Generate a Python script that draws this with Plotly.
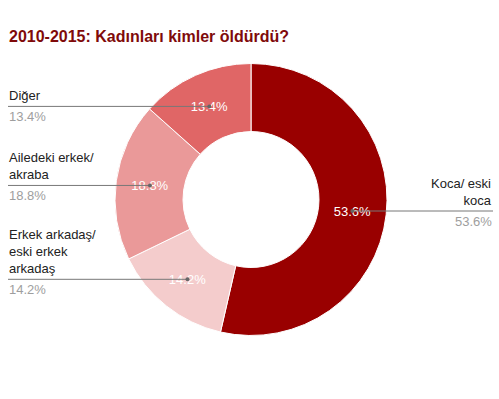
import math
import plotly.graph_objects as go

# ---- data ----
labels = ["Koca/ eski koca", "Erkek arkadaş/ eski erkek arkadaş", "Ailedeki erkek/ akraba", "Diğer"]
label_lines = [["Koca/ eski", "koca"], ["Erkek arkadaş/", "eski erkek", "arkadaş"], ["Ailedeki erkek/", "akraba"], ["Diğer"]]
values = [53.6, 14.2, 18.8, 13.4]
colors = ["#990000", "#f4cccc", "#ea9999", "#e06666"]
title_text = "2010-2015: Kadınları kimler öldürdü?"

# ---- geometry ----
W, H = 499, 399
cx, cy, R = 251, 199.5, 136
HOLE = 0.5
r_mid = R * (1 + HOLE) / 2
FONT = "Arial, Liberation Sans, sans-serif"

def px(x):
    return x / W

def py(y):
    return 1 - y / H

fig = go.Figure(go.Pie(
    values=values,
    labels=labels,
    hole=HOLE,
    sort=False,
    direction="clockwise",
    rotation=0,
    marker=dict(colors=colors, line=dict(color="white", width=1)),
    texttemplate="%{percent:.1%}",
    textposition="inside",
    insidetextorientation="horizontal",
    textfont=dict(color="white", size=13, family=FONT),
    domain=dict(x=[px(cx - R), px(cx + R)], y=[py(cy + R), py(cy - R)]),
    showlegend=False,
    hoverinfo="label+percent",
))

shapes = []
annotations = []
total = sum(values)
cum = 0.0
for i, v in enumerate(values):
    mid = (cum + v / 2) / total * 2 * math.pi
    cum += v
    dx = cx + r_mid * math.sin(mid)
    dy = cy - r_mid * math.cos(mid)
    right = math.sin(mid) > 0
    x0, x1 = (dx, 493) if right else (8, dx)
    shapes.append(dict(type="line", xref="paper", yref="paper",
                       x0=px(x0), x1=px(x1), y0=py(dy), y1=py(dy),
                       line=dict(color="#777777", width=1)))
    shapes.append(dict(type="circle", xref="paper", yref="paper",
                       x0=px(dx - 2), x1=px(dx + 2), y0=py(dy + 2), y1=py(dy - 2),
                       fillcolor="#666666", line=dict(width=0)))
    ax = 493 if right else 8
    anchor = "right" if right else "left"
    annotations.append(dict(
        x=px(ax), y=py(dy - 2), xref="paper", yref="paper",
        text="<br>".join(label_lines[i]), showarrow=False,
        xanchor=anchor, yanchor="bottom", align=anchor, borderpad=0,
        font=dict(family=FONT, size=13, color="#222222")))
    annotations.append(dict(
        x=px(ax), y=py(dy + 2), xref="paper", yref="paper",
        text=f"{v:.1f}%", showarrow=False,
        xanchor=anchor, yanchor="top", align=anchor, borderpad=0,
        font=dict(family=FONT, size=13, color="#9e9e9e")))

annotations.append(dict(
    x=px(7), y=py(36), xref="paper", yref="paper", text=title_text,
    showarrow=False, xanchor="left", yanchor="middle",
    font=dict(family=FONT, size=16, color="#7f0a0a", weight=700)))

fig.update_layout(
    width=W, height=H,
    margin=dict(l=0, r=0, t=0, b=0),
    paper_bgcolor="white", plot_bgcolor="white",
    shapes=shapes, annotations=annotations,
)

fig.write_html("out.html", config={"displayModeBar": False},
               post_script="document.body.style.margin='0';document.body.style.overflow='hidden';")
